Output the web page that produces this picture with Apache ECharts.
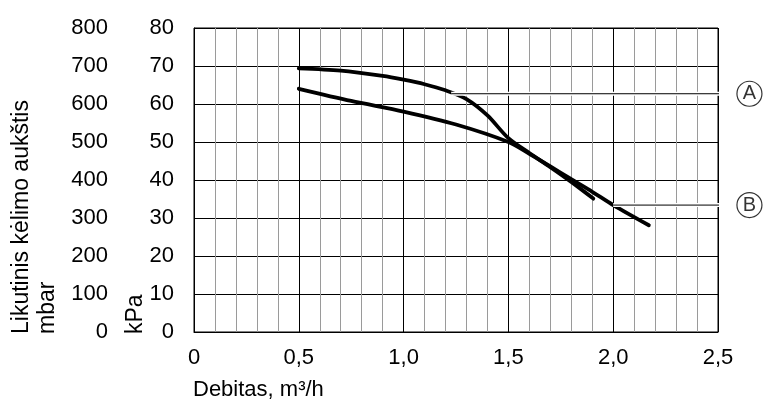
<!DOCTYPE html>
<html>
<head>
<meta charset="utf-8">
<script src="https://cdn.jsdelivr.net/npm/echarts@6/dist/echarts.min.js"></script>
<style>
html,body{margin:0;padding:0;background:#fff;}
#c{width:763px;height:412px;}
</style>
</head>
<body>
<div id="c"></div>
<script>
// Flow (m³/h) vs residual head (kPa)
const xTicks = [0, 0.5, 1.0, 1.5, 2.0, 2.5];
const curveA = [[0.5,69.4],[0.7,68.8],[0.9,67.4],[1.0,66.4],[1.1,65.2],[1.2,63.6],[1.3,61.3],[1.4,57.0],[1.5,51.0],[1.6,47.1],[1.7,43.4],[1.8,39.5],[1.905,35.1]];
const curveB = [[0.5,64.0],[0.75,60.8],[1.0,58.0],[1.25,54.6],[1.5,50.0],[1.6,46.9],[1.7,43.6],[1.8,40.2],[1.9,36.9],[2.0,33.4],[2.17,28.1]];
const leaderA = [[1.227,62.7],[2.593,62.7]];
const leaderB = [[2.0,33.4],[2.593,33.4]];
const markers = [{name:'A', value:[2.65,62.7]},{name:'B', value:[2.65,33.4]}];

const FONT = 'Liberation Sans, Arial, sans-serif';
const FS = 22;
const chart = echarts.init(document.getElementById('c'), null, {renderer:'canvas'});

function leader(data){
  return [
    {type:'line', data:data, symbol:'none', clip:false, silent:true, z:5,
     lineStyle:{color:'#fff', width:4}},
    {type:'line', data:data, symbol:'none', clip:false, silent:true, z:6,
     lineStyle:{color:'#000', width:1}}
  ];
}

chart.setOption({
  animation:false,
  grid:{left:194, right:45, top:28, bottom:80, show:true, borderColor:'#000', borderWidth:1, backgroundColor:'transparent'},
  xAxis:{
    type:'value', min:0, max:2.5, interval:0.5,
    axisLine:{show:true, lineStyle:{color:'#000', width:1}},
    axisTick:{show:false},
    minorTick:{show:false, splitNumber:5},
    minorSplitLine:{show:true, lineStyle:{color:'#9a9a9a', width:1}},
    splitLine:{show:true, lineStyle:{color:'#000', width:1}},
    axisLabel:{color:'#000', fontSize:FS, fontFamily:FONT, margin:15,
      formatter:function(v){ return v===0 ? '0' : v.toFixed(1).replace('.', ','); }}
  },
  yAxis:[
    {type:'value', min:0, max:80, interval:10, position:'left',
     axisLine:{show:true, lineStyle:{color:'#000', width:1}},
     axisTick:{show:false},
     splitLine:{show:true, lineStyle:{color:'#000', width:1}},
     axisLabel:{color:'#000', fontSize:FS, fontFamily:FONT, margin:20}},
    {type:'value', min:0, max:800, interval:100, position:'left',
     axisLine:{show:false}, axisTick:{show:false}, splitLine:{show:false},
     axisLabel:{color:'#000', fontSize:FS, fontFamily:FONT, margin:86}}
  ],
  series:[
    {type:'line', name:'A', data:curveA, smooth:0.3, symbol:'none', z:3,
     lineStyle:{color:'#000', width:3.8, cap:'round'}},
    {type:'line', name:'B', data:curveB, smooth:0.3, symbol:'none', z:3,
     lineStyle:{color:'#000', width:3.8, cap:'round'}},
    ...leader(leaderA),
    ...leader(leaderB),
    {type:'scatter', data:markers, symbol:'circle', symbolSize:25, clip:false, z:7, silent:true,
     itemStyle:{color:'#fff', borderColor:'#000', borderWidth:1.2},
     label:{show:true, position:'inside', formatter:'{b}', color:'#000', fontSize:20, fontFamily:FONT}}
  ],
  graphic:[
    {type:'text', x:22, y:334, rotation:Math.PI/2,
     style:{text:'Likutinis kėlimo aukštis', fontSize:23, fontFamily:FONT, fill:'#000', align:'left', verticalAlign:'middle'}},
    {type:'text', x:48, y:334, rotation:Math.PI/2,
     style:{text:'mbar', fontSize:23, fontFamily:FONT, fill:'#000', align:'left', verticalAlign:'middle'}},
    {type:'text', x:136, y:334, rotation:Math.PI/2,
     style:{text:'kPa', fontSize:23, fontFamily:FONT, fill:'#000', align:'left', verticalAlign:'middle'}},
    {type:'text', x:193, y:390,
     style:{text:'Debitas, m³/h', fontSize:FS, fontFamily:FONT, fill:'#000', align:'left', verticalAlign:'middle'}}
  ]
});
</script>
</body>
</html>
